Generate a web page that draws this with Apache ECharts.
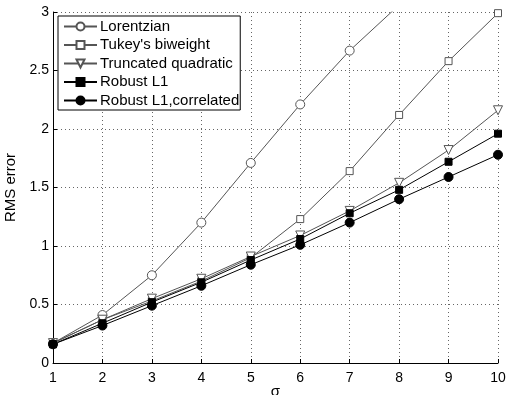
<!doctype html>
<html>
    <head>
        <meta charset="utf-8">
        <title>RMS error vs sigma</title>
        <style>
            html, body { margin: 0; padding: 0; background: #fff; }
            #main { width: 508px; height: 395px; }
        </style>
    </head>
    <body>
        <div id="main"></div>
        <script src="https://cdn.jsdelivr.net/npm/echarts@6/dist/echarts.min.js"></script>
        <script>
            var sigma = [1, 2, 3, 4, 5, 6, 7, 8, 9, 10];
            var yTicks = [0, 0.5, 1, 1.5, 2, 2.5, 3];

            // Lorentzian leaves the plot after sigma = 7
            var lorentzian = [0.17, 0.41, 0.75, 1.20, 1.71, 2.21, 2.67, 3.06];
            var tukey = [0.17, 0.37, 0.53, 0.70, 0.90, 1.23, 1.64, 2.12, 2.58, 2.99];
            var truncated = [0.17, 0.37, 0.55, 0.72, 0.91, 1.09, 1.30, 1.54, 1.82, 2.16];
            var robustL1 = [0.16, 0.34, 0.52, 0.69, 0.88, 1.06, 1.28, 1.48, 1.72, 1.96];
            var robustL1Corr = [0.16, 0.32, 0.49, 0.66, 0.84, 1.01, 1.20, 1.40, 1.59, 1.78];

            var font = 'Liberation Sans, Arial, Helvetica, sans-serif';

            function pairs(values) {
                return values.map(function (v, i) { return [sigma[i], v]; });
            }

            function makeSeries(name, values, symbol, size, lineColor, fill, rotate) {
                return {
                    name: name,
                    type: 'line',
                    data: pairs(values),
                    symbol: symbol,
                    symbolSize: size,
                    symbolRotate: rotate || 0,
                    showAllSymbol: true,
                    animation: false,
                    clip: true,
                    lineStyle: { color: lineColor, width: 1 },
                    itemStyle: { color: fill, borderColor: lineColor, borderWidth: 1 },
                    emphasis: { disabled: true }
                };
            }

            var chart = echarts.init(document.getElementById('main'));

            chart.setOption({
                backgroundColor: '#fff',
                textStyle: { fontFamily: font },
                grid: { left: 53, right: 10, top: 12, bottom: 32, outerBoundsMode: 'none' },
                legend: {
                    orient: 'vertical',
                    left: 58,
                    top: 16,
                    padding: [3, 1, 2, 5],
                    itemGap: 3.5,
                    itemWidth: 33,
                    itemHeight: 10,
                    borderColor: '#000',
                    borderWidth: 1,
                    backgroundColor: '#fff',
                    textStyle: { fontFamily: font, fontSize: 15, color: '#000', padding: [0, 0, 0, -2] },
                    data: ['Lorentzian', "Tukey's biweight", 'Truncated quadratic', 'Robust L1', 'Robust L1,correlated']
                },
                xAxis: {
                    type: 'value',
                    min: 1,
                    max: 10,
                    interval: 1,
                    name: 'σ',
                    nameLocation: 'middle',
                    nameGap: 21,
                    nameMoveOverlap: false,
                    nameTextStyle: { fontFamily: font, fontSize: 15, color: '#000', verticalAlign: 'top' },
                    axisLine: { lineStyle: { color: '#000', width: 1 } },
                    axisTick: { inside: true, length: 4, lineStyle: { color: '#000' } },
                    axisLabel: { fontFamily: font, fontSize: 14, color: '#000', margin: 8 },
                    splitLine: { show: true, lineStyle: { color: '#666', type: [1, 3], width: 1 } }
                },
                yAxis: {
                    type: 'value',
                    min: 0,
                    max: 3,
                    interval: 0.5,
                    name: 'RMS error',
                    nameLocation: 'middle',
                    nameGap: 30,
                    nameTextStyle: { fontFamily: font, fontSize: 15, color: '#000' },
                    axisLine: { show: true, lineStyle: { color: '#000', width: 1 } },
                    axisTick: { show: true, inside: true, length: 4, lineStyle: { color: '#000' } },
                    axisLabel: {
                        fontFamily: font, fontSize: 14, color: '#000', margin: 4,
                        formatter: function (v) { return yTicks.indexOf(v) >= 0 ? String(v) : ''; }
                    },
                    splitLine: { show: true, lineStyle: { color: '#666', type: [1, 3], width: 1 } }
                },
                series: [
                    makeSeries('Lorentzian', lorentzian, 'circle', 9, '#555', '#fff'),
                    makeSeries("Tukey's biweight", tukey, 'rect', 7, '#555', '#fff'),
                    makeSeries('Truncated quadratic', truncated, 'triangle', 9, '#555', '#fff', 180),
                    makeSeries('Robust L1', robustL1, 'rect', 7, '#000', '#000'),
                    makeSeries('Robust L1,correlated', robustL1Corr, 'circle', 9, '#000', '#000')
                ]
            });

            window.addEventListener('resize', chart.resize);
        </script>
    </body>
</html>
